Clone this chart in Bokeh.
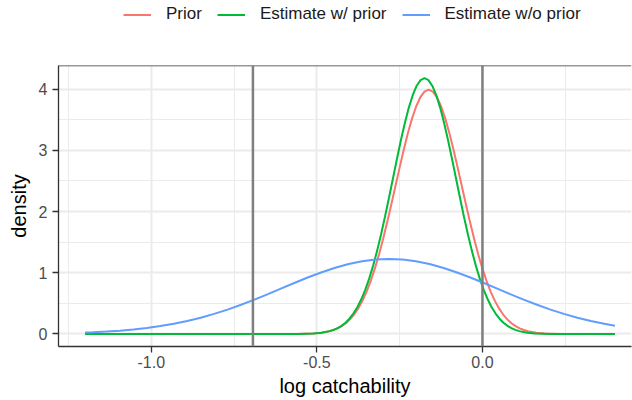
from bokeh.plotting import figure
from bokeh.layouts import column
from bokeh.models import (Range1d, FixedTicker, PrintfTickFormatter, Span,
                          Legend, LegendItem)
from bokeh.embed import file_html
from bokeh.resources import INLINE

# ---- data ----
series_names = ["Prior", "Estimate w/ prior", "Estimate w/o prior"]
series_colors = ["#F8766D", "#00BA38", "#619CFF"]

prior_x = [-1.2, -0.5625, -0.5125, -0.4875, -0.4625, -0.45, -0.4375, -0.425, -0.4125,
           -0.4, -0.3875, -0.375, -0.3625, -0.35, -0.3375, -0.325, -0.3125, -0.3,
           -0.2875, -0.275, -0.2625, -0.25, -0.2375, -0.225, -0.2125, -0.2, -0.1875,
           -0.175, -0.1625, -0.15, -0.1375, -0.125, -0.1125, -0.1, -0.0875, -0.075,
           -0.0625, -0.05, -0.0375, -0.025, -0.0125, 0.0, 0.0125, 0.025, 0.0375, 0.05,
           0.0625, 0.075, 0.0875, 0.1, 0.1125, 0.125, 0.1375, 0.1625, 0.1875, 0.2375, 0.4]
prior_y = [0.0, 0.001, 0.009, 0.020, 0.044, 0.064, 0.091, 0.127, 0.175, 0.238, 0.317,
           0.417, 0.540, 0.688, 0.863, 1.066, 1.295, 1.550, 1.827, 2.119, 2.420, 2.721,
           3.012, 3.282, 3.521, 3.719, 3.867, 3.959, 3.990, 3.959, 3.867, 3.719, 3.521,
           3.282, 3.012, 2.721, 2.420, 2.119, 1.827, 1.550, 1.295, 1.066, 0.863, 0.688,
           0.540, 0.417, 0.317, 0.238, 0.175, 0.127, 0.091, 0.064, 0.044, 0.020, 0.009,
           0.001, 0.0]

post_x = [-1.2, -0.5566, -0.5089, -0.4851, -0.4612, -0.4493, -0.4374, -0.4254, -0.4135,
          -0.4016, -0.3897, -0.3777, -0.3658, -0.3539, -0.3420, -0.3300, -0.3181, -0.3062,
          -0.2943, -0.2823, -0.2704, -0.2585, -0.2466, -0.2346, -0.2227, -0.2108, -0.1989,
          -0.1869, -0.175, -0.1631, -0.1512, -0.1392, -0.1273, -0.1154, -0.1035, -0.0915,
          -0.0796, -0.0677, -0.0558, -0.0438, -0.0319, -0.0200, -0.0081, 0.0039, 0.0158,
          0.0277, 0.0397, 0.0516, 0.0635, 0.0754, 0.0874, 0.0993, 0.1112, 0.1351, 0.1589,
          0.2066, 0.4]
post_y = [0.0, 0.001, 0.009, 0.021, 0.046, 0.067, 0.095, 0.133, 0.184, 0.249, 0.333,
          0.437, 0.566, 0.721, 0.904, 1.116, 1.357, 1.624, 1.914, 2.220, 2.535, 2.850,
          3.155, 3.438, 3.689, 3.896, 4.051, 4.147, 4.180, 4.147, 4.051, 3.896, 3.689,
          3.438, 3.155, 2.850, 2.535, 2.220, 1.914, 1.624, 1.357, 1.116, 0.904, 0.721,
          0.566, 0.437, 0.333, 0.249, 0.184, 0.133, 0.095, 0.067, 0.046, 0.021, 0.009,
          0.001, 0.0]

noprior_x = [-1.2, -1.1758, -1.1351, -1.0945, -1.0539, -1.0133, -0.9726, -0.9320, -0.8914,
             -0.8508, -0.8101, -0.7695, -0.7289, -0.6883, -0.6476, -0.6070, -0.5664,
             -0.5258, -0.4851, -0.4445, -0.4039, -0.3633, -0.3226, -0.2820, -0.2414,
             -0.2008, -0.1601, -0.1195, -0.0789, -0.0383, 0.0024, 0.0430, 0.0836, 0.1243,
             0.1649, 0.2055, 0.2461, 0.2868, 0.3274, 0.3680, 0.4]
noprior_y = [0.0227, 0.0280, 0.0391, 0.0539, 0.0730, 0.0975, 0.1282, 0.1659, 0.2114,
             0.2651, 0.3274, 0.3980, 0.4764, 0.5613, 0.6511, 0.7436, 0.8361, 0.9254,
             1.0085, 1.0819, 1.1428, 1.1883, 1.2165, 1.226, 1.2165, 1.1883, 1.1428,
             1.0819, 1.0085, 0.9254, 0.8361, 0.7436, 0.6511, 0.5613, 0.4764, 0.3980,
             0.3274, 0.2651, 0.2114, 0.1659, 0.1357]

vline_x = [-0.693, 0.0]

x_ticks = [-1.0, -0.5, 0.0]
x_minor = [-1.25, -0.75, -0.25, 0.25]
y_ticks = [0, 1, 2, 3, 4]
y_minor = [0.5, 1.5, 2.5, 3.5]

x_title = "log catchability"
y_title = "density"

FONT = "Liberation Sans"
series_x = [prior_x, post_x, noprior_x]
series_y = [prior_y, post_y, noprior_y]

# ---- legend strip (separate figure above the panel) ----
# its ranges are set away from the data so only the legend itself shows
leg = figure(width=632, height=63, x_range=Range1d(10, 11), y_range=Range1d(10, 11),
             output_backend="svg", toolbar_location=None,
             x_axis_location=None, y_axis_location=None,
             min_border_left=58, min_border_right=1, min_border_top=0, min_border_bottom=0)
leg.outline_line_color = None
leg.xgrid.visible = False
leg.ygrid.visible = False
leg_renderers = [leg.line(xs, ys, line_color=c, line_width=2)
                 for xs, ys, c in zip(series_x, series_y, series_colors)]
legend = Legend(items=[LegendItem(label=n, renderers=[r])
                       for n, r in zip(series_names, leg_renderers)],
                orientation="horizontal", location=(65, 39),
                glyph_width=28, glyph_height=17, label_standoff=15, spacing=15,
                padding=0, margin=0, border_line_color=None,
                background_fill_alpha=0,
                label_text_font=FONT, label_text_font_size="17px",
                label_text_color="#1A1A1A")
leg.add_layout(legend)

# ---- main panel ----
p = figure(width=632, height=337,
           x_range=Range1d(-1.28, 0.45), y_range=Range1d(-0.205, 4.385),
           output_backend="svg", toolbar_location=None,
           min_border_left=58, min_border_right=1,
           min_border_top=2, min_border_bottom=54)
p.outline_line_color = None
p.background_fill_color = "white"
p.border_fill_color = "white"

for ax in (p.xaxis[0], p.yaxis[0]):
    ax.axis_line_color = "#333333"
    ax.axis_line_width = 1.3
    ax.major_tick_line_color = "#333333"
    ax.major_tick_line_width = 1.3
    ax.major_tick_out = 6
    ax.major_tick_in = 0
    ax.minor_tick_line_color = None
    ax.major_label_text_font = FONT
    ax.major_label_text_font_size = "16px"
    ax.major_label_text_color = "#4D4D4D"
    ax.axis_label_text_font = FONT
    ax.axis_label_text_font_size = "20px"
    ax.axis_label_text_font_style = "normal"
    ax.axis_label_text_color = "#000000"

p.xaxis.ticker = FixedTicker(ticks=x_ticks, minor_ticks=x_minor)
p.yaxis.ticker = FixedTicker(ticks=y_ticks, minor_ticks=y_minor)
p.xaxis.formatter = PrintfTickFormatter(format="%.1f")
p.yaxis.formatter = PrintfTickFormatter(format="%d")
p.xaxis.axis_label = x_title
p.yaxis.axis_label = y_title
p.xaxis.major_label_standoff = 3
p.yaxis.major_label_standoff = 5
p.xaxis.axis_label_standoff = 4
p.yaxis.axis_label_standoff = 6

for g in (p.xgrid[0], p.ygrid[0]):
    g.grid_line_color = "#EBEBEB"
    g.grid_line_width = 2
    g.minor_grid_line_color = "#EBEBEB"
    g.minor_grid_line_width = 1

# top border of the panel
p.add_layout(Span(location=4.385, dimension="width", line_color="#333333", line_width=1.5))

for xs, ys, c in zip(series_x, series_y, series_colors):
    p.line(xs, ys, line_color=c, line_width=2)

for v in vline_x:
    p.add_layout(Span(location=v, dimension="height", line_color="#7F7F7F", line_width=2.5))

layout = column(leg, p, spacing=0)
open("out.html", "w").write(file_html(layout, INLINE))
